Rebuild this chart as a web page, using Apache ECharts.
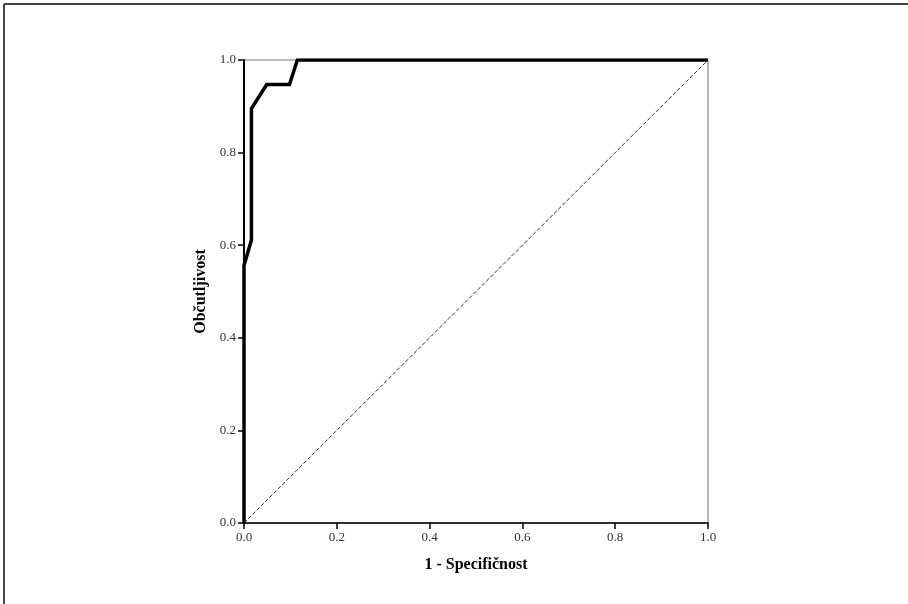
<!DOCTYPE html>
<html>
<head>
<meta charset="utf-8">
<script src="https://cdn.jsdelivr.net/npm/echarts@6/dist/echarts.min.js"></script>
<style>
  html, body { margin: 0; padding: 0; background: #fff; }
  #container { width: 908px; height: 604px; }
</style>
</head>
<body>
<div id="container"></div>
<script>
// ROC krivulja: 1 - specifičnost (x) proti občutljivosti (y)
var rocX = [0, 0, 0.016, 0.016, 0.049, 0.098, 0.115, 1];
var rocY = [0, 0.556, 0.611, 0.895, 0.947, 0.947, 1, 1];
var refX = [0, 1];
var refY = [0, 1];
var tickValues = [0, 0.2, 0.4, 0.6, 0.8, 1.0];

var dom = document.getElementById("container");
var myChart = echarts.init(dom);

function pairs(xs, ys) {
    var out = [];
    for (var i = 0; i < xs.length; i++) out.push([xs[i], ys[i]]);
    return out;
}

var serif = '"Liberation Serif", "DejaVu Serif", serif';

var axisCommon = {
    min: 0,
    max: 1,
    interval: 0.2,
    axisLine: { show: true, lineStyle: { color: '#000', width: 2 } },
    axisTick: { show: true, length: 6, lineStyle: { color: '#000', width: 1.5 } },
    axisLabel: {
        color: '#333',
        fontFamily: serif,
        fontSize: 13,
        margin: 8,
        formatter: function (v) { return v.toFixed(1); }
    },
    splitLine: { show: false },
    nameLocation: 'middle',
    nameTextStyle: {
        color: '#000',
        fontFamily: serif,
        fontWeight: 'bold',
        fontSize: 16
    }
};

var option = {
    animation: false,
    backgroundColor: '#fff',
    graphic: [
        { type: 'line', shape: { x1: 4, y1: 4, x2: 908, y2: 4 }, style: { stroke: '#444', lineWidth: 2 } },
        { type: 'line', shape: { x1: 4, y1: 4, x2: 4, y2: 604 }, style: { stroke: '#444', lineWidth: 2 } }
    ],
    grid: {
        left: 244,
        right: 200,
        top: 60,
        bottom: 81,
        show: true,
        borderColor: '#777',
        borderWidth: 1
    },
    xAxis: Object.assign({}, axisCommon, {
        type: 'value',
        name: '1 - Specifičnost',
        nameGap: 34,
        axisLine: { show: true, lineStyle: { color: '#000', width: 1.5 } }
    }),
    yAxis: Object.assign({}, axisCommon, {
        type: 'value',
        name: 'Občutljivost',
        nameGap: 30
    }),
    series: [
        {
            type: 'line',
            data: pairs(refX, refY),
            symbol: 'none',
            silent: true,
            lineStyle: { color: '#333', width: 1, type: [4, 2] }
        },
        {
            type: 'line',
            data: pairs(rocX, rocY),
            symbol: 'none',
            silent: true,
            lineStyle: { color: '#000', width: 3.5, join: 'miter' }
        }
    ]
};

if (option && typeof option === "object") {
    myChart.setOption(option, true);
}
</script>
</body>
</html>
